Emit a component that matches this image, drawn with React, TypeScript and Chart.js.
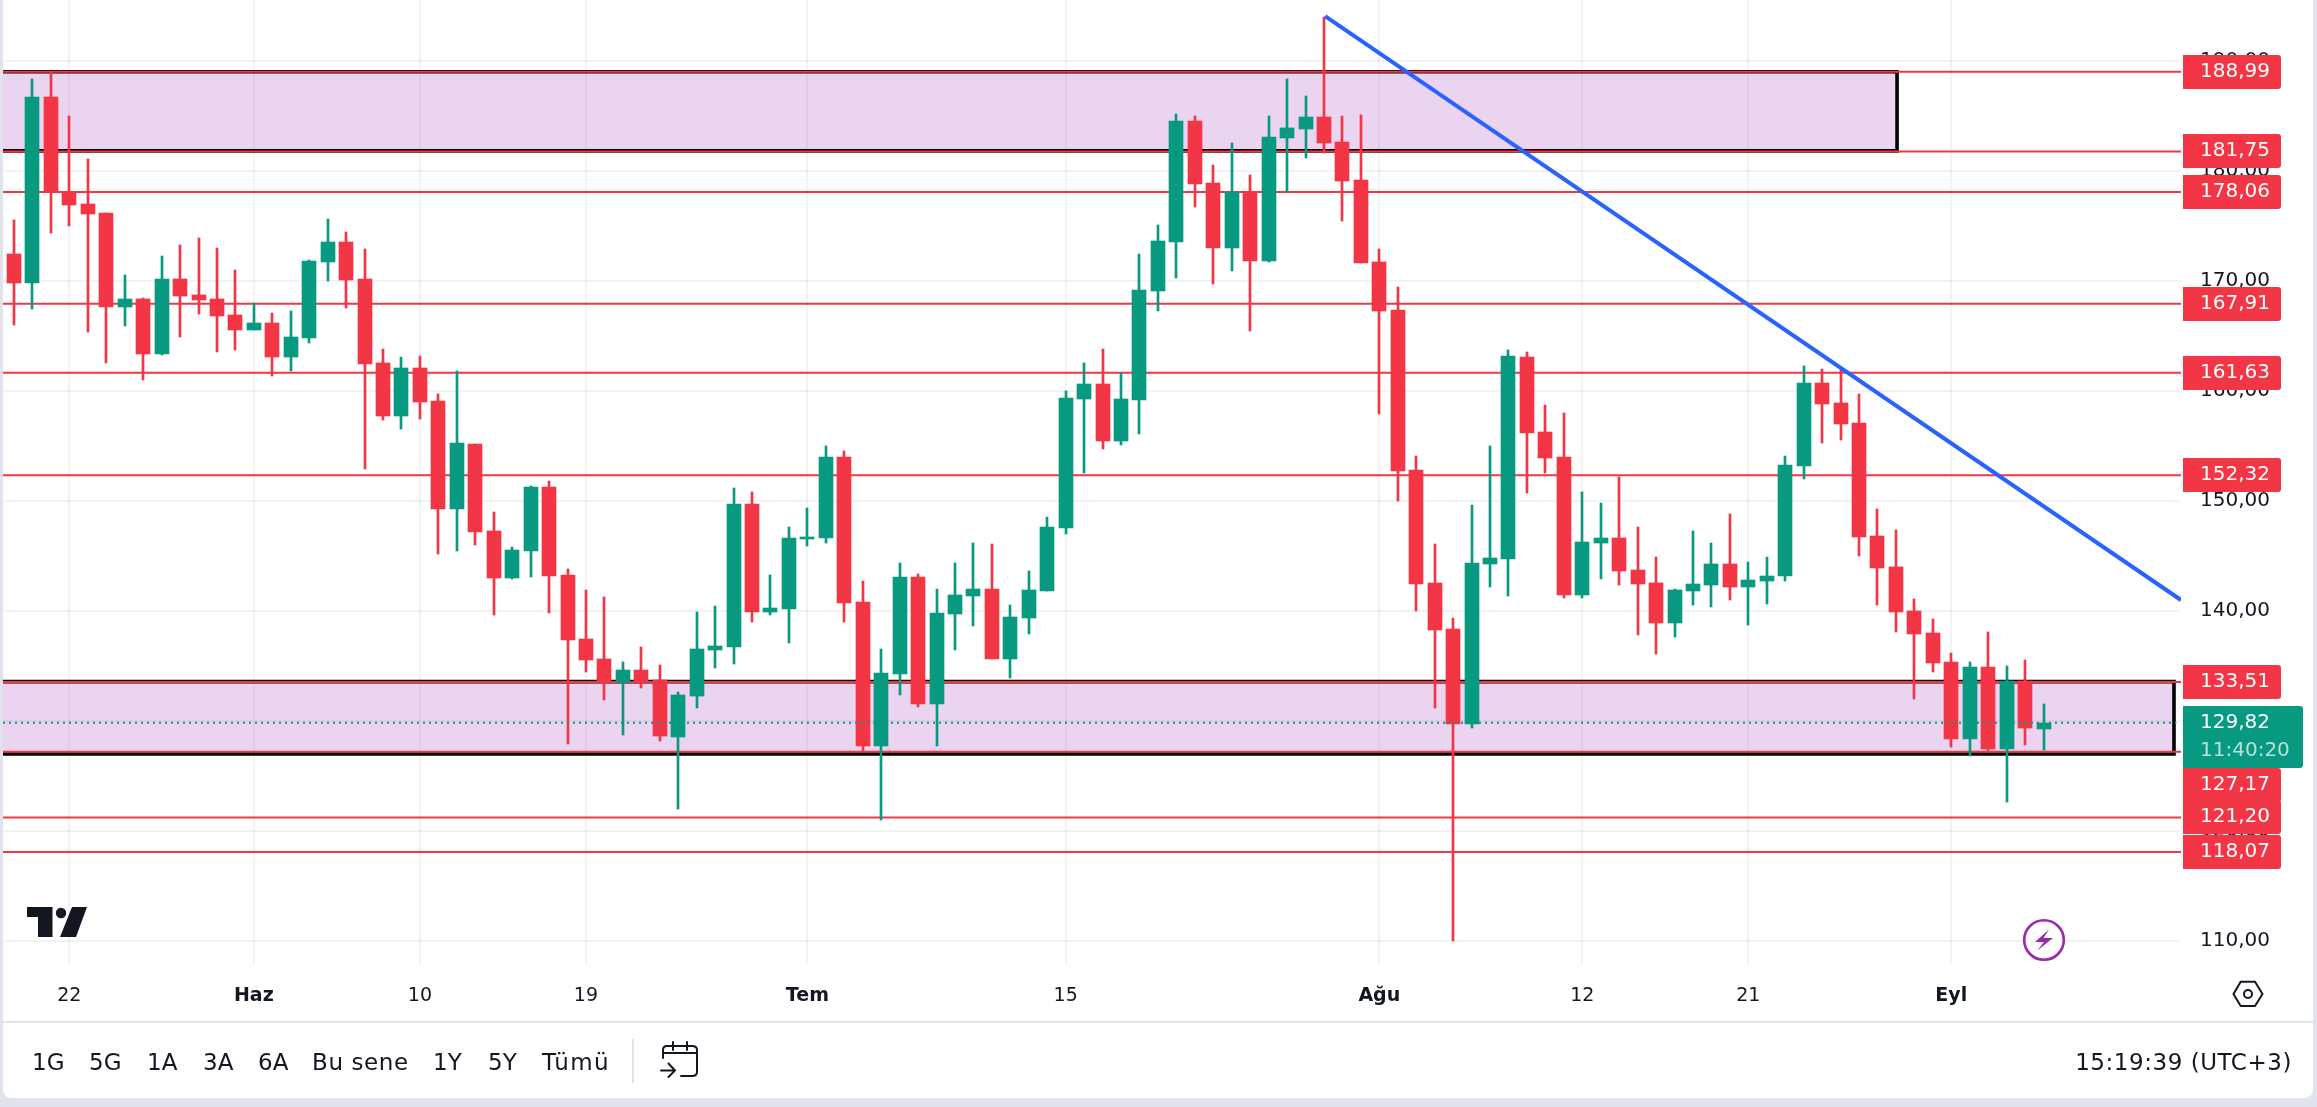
import React, { useEffect, useRef } from "react";
import { Chart, registerables } from "chart.js";

Chart.register(...registerables);

const opens = [
  172.44, 169.81, 186.69, 178.08, 176.98, 176.17, 167.6, 168.34, 163.34, 170.16,
  168.7, 168.34, 166.88, 165.52, 166.17, 163.05, 164.81, 171.69, 173.51, 170.16,
  162.53, 157.7, 162.08, 159.06, 149.25, 155.16, 147.25, 143.0, 145.46, 151.23,
  143.25, 137.44, 135.62, 133.51, 134.61, 133.7, 128.51, 132.24, 136.43, 136.69,
  149.71, 139.87, 140.17, 146.56, 146.63, 153.96, 140.78, 127.7, 134.26, 143.06,
  131.53, 139.71, 141.33, 141.98, 135.62, 139.35, 141.79, 147.54, 159.25, 160.61,
  155.46, 159.16, 169.07, 173.52, 184.52, 178.88, 172.97, 178.07, 171.79, 182.97,
  183.79, 184.88, 182.61, 179.16, 171.7, 167.34, 152.79, 142.53, 138.34, 129.74,
  144.25, 144.7, 163.05, 156.23, 153.96, 141.43, 146.17, 146.62, 143.7, 142.53,
  138.89, 141.78, 142.33, 144.25, 142.14, 142.69, 143.15, 153.15, 160.71, 158.89,
  157.07, 146.78, 143.96, 139.98, 137.98, 135.34, 128.34, 134.88, 127.43, 133.61,
  129.25,
];
const closes = [
  169.81, 186.69, 178.08, 176.88, 176.07, 167.6, 168.34, 163.34, 170.16, 168.6,
  168.25, 166.79, 165.52, 166.17, 163.05, 164.87, 171.79, 173.51, 170.07, 162.44,
  157.7, 162.08, 158.96, 149.25, 155.26, 147.14, 143.0, 145.52, 151.25, 143.18,
  137.34, 135.52, 133.57, 134.61, 133.57, 128.61, 132.34, 136.53, 136.79, 149.71,
  139.87, 140.26, 146.63, 146.69, 153.96, 140.72, 127.7, 134.35, 143.06, 131.53,
  139.81, 141.43, 141.98, 135.62, 139.42, 141.89, 147.6, 159.35, 160.61, 155.46,
  159.25, 169.16, 173.61, 184.52, 178.79, 172.97, 178.07, 171.79, 183.07, 183.88,
  184.88, 182.52, 179.07, 171.61, 167.25, 152.73, 142.43, 138.24, 129.74, 144.35,
  144.8, 163.15, 156.17, 153.89, 141.43, 146.23, 146.62, 143.6, 142.43, 138.89,
  141.88, 142.43, 144.25, 142.14, 142.79, 143.15, 153.24, 160.71, 158.8, 156.98,
  146.69, 143.89, 139.87, 137.88, 135.25, 128.34, 134.88, 127.43, 133.61, 129.34,
  129.82,
];
const highs = [
  175.52, 188.34, 188.93, 184.97, 181.07, 176.17, 170.52, 168.44, 172.24, 173.25,
  173.9, 172.99, 170.97, 167.99, 167.08, 167.24, 171.88, 175.62, 174.42, 172.89,
  163.8, 163.05, 163.15, 159.71, 161.79, 155.16, 148.96, 145.79, 151.34, 151.79,
  143.8, 141.89, 141.24, 135.33, 136.69, 135.07, 132.6, 139.87, 140.43, 151.17,
  150.78, 143.25, 147.6, 149.35, 154.97, 154.52, 142.7, 136.53, 144.35, 143.35,
  141.98, 144.35, 146.17, 146.07, 140.52, 143.61, 148.51, 159.97, 162.52, 163.79,
  161.58, 172.43, 175.07, 185.16, 184.97, 180.52, 182.52, 179.61, 184.97, 188.34,
  186.79, 194.0, 184.97, 185.07, 172.88, 169.43, 154.06, 146.07, 139.35, 149.61,
  154.96, 163.7, 163.5, 158.7, 157.98, 150.78, 149.8, 152.14, 147.59, 144.87,
  141.98, 147.24, 146.17, 148.8, 144.41, 144.87, 154.06, 162.24, 161.98, 161.98,
  159.7, 149.25, 147.33, 141.07, 139.25, 136.16, 135.34, 138.07, 134.98, 135.52,
  131.52,
];
const lows = [
  165.97, 167.44, 174.35, 174.97, 165.33, 162.53, 165.88, 160.97, 163.25, 164.87,
  166.98, 163.51, 163.7, 165.52, 161.33, 161.79, 164.35, 169.97, 167.53, 152.89,
  157.34, 156.53, 157.44, 145.16, 145.42, 145.97, 139.61, 142.88, 143.09, 139.79,
  127.89, 134.42, 131.89, 128.7, 132.99, 128.15, 121.98, 131.17, 134.81, 135.17,
  138.96, 139.61, 137.08, 145.88, 146.17, 138.96, 127.24, 121.01, 132.34, 131.24,
  127.7, 136.43, 138.61, 135.62, 133.9, 137.89, 141.79, 146.98, 152.52, 154.7,
  155.07, 156.07, 167.25, 170.25, 176.7, 169.7, 170.88, 165.43, 171.7, 178.07,
  181.16, 181.58, 175.43, 171.61, 157.88, 149.97, 139.96, 131.17, 110.0, 129.35,
  142.14, 141.33, 150.71, 152.53, 141.17, 141.17, 142.89, 142.33, 137.79, 136.07,
  137.59, 140.52, 140.32, 140.97, 138.7, 140.61, 142.69, 151.98, 155.26, 155.52,
  144.96, 140.52, 138.05, 131.98, 134.43, 127.61, 126.79, 127.16, 122.61, 127.79,
  127.34,
];

const dateTickIndexes = [3, 13, 22, 31, 43, 57, 74, 85, 94, 105];
const dateTickLabels = ["22", "Haz", "10", "19", "Tem", "15", "Ağu", "12", "21", "Eyl"];
const boldDateLabels = ["Haz", "Tem", "Ağu", "Eyl"];
const priceTicks = [110, 120, 130, 140, 150, 160, 170, 180, 190];

const supportResistance = [188.99, 181.75, 178.06, 167.91, 161.63, 152.32, 133.51, 127.17, 121.2, 118.07];
const labelShifts = [0, 0, 0, 0, 0, 0, 0, 33, 0, 0];
const zoneTops = [189.0, 133.55];
const zoneBottoms = [181.8, 126.97];
const zoneEnds = [102.06, 117.07];
const trendXs = [71.06, 117.45];
const trendYs = [194.06, 140.97];
const lastPrice = 129.82;
const countdown = "11:40:20";
const rangeButtons: [string, number, number][] = [
  ["1G", 32, 0], ["5G", 89, 0], ["1A", 147, 0], ["3A", 203, 0], ["6A", 258, 0],
  ["Bu sene", 312, 0.6], ["1Y", 433, 0], ["5Y", 488, 0], ["Tümü", 542, 1.4],
];
const clockText = "15:19:39 (UTC+3)";

const X_MIN = -0.596;
const X_MAX = 117.45;
const Y_MIN = 107.88;
const Y_MAX = 195.52;
const RED = "#f23645";
const GREEN = "#089981";
const INK = "#131722";
const PURPLE = "#9c27b0";
const GRID = "rgba(42,46,57,0.06)";
const FONT = "'DejaVu Sans'";

const fmt = (v: number) => v.toFixed(2).replace(".", ",");
const candleColors = opens.map((o, i) => (closes[i] >= o ? GREEN : RED));

const levelDatasets = supportResistance.map((v) => ({
  type: "line",
  data: [{ x: X_MIN, y: v }, { x: X_MAX, y: v }],
  borderColor: RED,
  borderWidth: 2,
  pointRadius: 0,
  order: 6,
}));

const crispPlugin = {
  id: "crisp",
  afterDatasetsUpdate(chart: any) {
    chart.getSortedVisibleDatasetMetas().forEach((meta: any) => {
      if (meta.type !== "bar") return;
      meta.data.forEach((el: any) => {
        el.x = Math.round(el.x);
        el.y = Math.round(el.y);
        el.base = Math.round(el.base);
      });
    });
  },
};

const zonesPlugin = {
  id: "zones",
  beforeDatasetsDraw(chart: any) {
    const { ctx, scales, chartArea } = chart;
    ctx.save();
    zoneTops.forEach((top, i) => {
      const y0 = scales.y.getPixelForValue(top);
      const y1 = scales.y.getPixelForValue(zoneBottoms[i]);
      const x1 = scales.x.getPixelForValue(zoneEnds[i]);
      const x0 = chartArea.left;
      ctx.fillStyle = "rgba(156,39,176,0.2)";
      ctx.fillRect(x0, y0, x1 - x0, y1 - y0);
      ctx.strokeStyle = "#000000";
      ctx.lineWidth = 3.6;
      ctx.beginPath();
      ctx.moveTo(x0, y0);
      ctx.lineTo(x1, y0);
      ctx.lineTo(x1, y1);
      ctx.lineTo(x0, y1);
      ctx.stroke();
    });
    ctx.restore();
  },
};

const overlayPlugin = {
  id: "overlay",
  afterDraw(chart: any) {
    const { ctx, scales } = chart;
    const right = chart.chartArea.right;
    const boxX = right + 2;
    ctx.save();
    ctx.textBaseline = "middle";
    ctx.textAlign = "left";
    ctx.font = `20px ${FONT}`;

    supportResistance.forEach((v, i) => {
      const cy = Math.round(scales.y.getPixelForValue(v) + labelShifts[i]);
      ctx.fillStyle = RED;
      ctx.beginPath();
      ctx.roundRect(boxX, cy - 17, 98, 34, [0, 3, 3, 0]);
      ctx.fill();
      ctx.fillStyle = "#ffffff";
      ctx.fillText(fmt(v), boxX + 17, cy);
    });

    const ly = Math.round(scales.y.getPixelForValue(lastPrice));
    ctx.fillStyle = GREEN;
    ctx.beginPath();
    ctx.roundRect(boxX, ly - 17, 120, 62, [0, 3, 3, 0]);
    ctx.fill();
    ctx.fillStyle = "#ffffff";
    ctx.fillText(fmt(lastPrice), boxX + 17, ly);
    ctx.fillStyle = "rgba(255,255,255,0.7)";
    ctx.fillText(countdown, boxX + 17, ly + 28);

    // TradingView mark
    ctx.fillStyle = INK;
    ctx.beginPath();
    ctx.moveTo(27, 907); ctx.lineTo(52.5, 907); ctx.lineTo(52.5, 937); ctx.lineTo(38, 937);
    ctx.lineTo(38, 917); ctx.lineTo(27, 917); ctx.closePath();
    ctx.fill();
    ctx.beginPath();
    ctx.arc(61, 913, 5.2, 0, Math.PI * 2);
    ctx.fill();
    ctx.beginPath();
    ctx.moveTo(72, 907); ctx.lineTo(87, 907); ctx.lineTo(76, 937); ctx.lineTo(60, 937);
    ctx.closePath();
    ctx.fill();

    // lightning badge
    ctx.beginPath();
    ctx.arc(2044, 940, 19.8, 0, Math.PI * 2);
    ctx.fillStyle = "#ffffff";
    ctx.fill();
    ctx.lineWidth = 2.6;
    ctx.strokeStyle = PURPLE;
    ctx.stroke();
    ctx.fillStyle = PURPLE;
    ctx.beginPath();
    ctx.moveTo(2049, 929.5); ctx.lineTo(2035, 942); ctx.lineTo(2044, 942);
    ctx.lineTo(2037.3, 950.5); ctx.lineTo(2053, 938); ctx.lineTo(2043.5, 938);
    ctx.closePath();
    ctx.fill();

    // settings hexagon
    ctx.strokeStyle = INK;
    ctx.lineWidth = 2;
    ctx.beginPath();
    ctx.moveTo(2233.5, 994); ctx.lineTo(2240.7, 981.7); ctx.lineTo(2255, 981.7);
    ctx.lineTo(2262.5, 994); ctx.lineTo(2255, 1006); ctx.lineTo(2240.7, 1006);
    ctx.closePath();
    ctx.stroke();
    ctx.beginPath();
    ctx.arc(2248, 994, 4, 0, Math.PI * 2);
    ctx.stroke();

    // date-range calendar
    ctx.lineCap = "round";
    ctx.beginPath();
    ctx.moveTo(663, 1058); ctx.lineTo(663, 1050);
    ctx.quadraticCurveTo(663, 1046, 667, 1046);
    ctx.lineTo(692, 1046);
    ctx.quadraticCurveTo(697, 1046, 697, 1050);
    ctx.lineTo(697, 1072);
    ctx.quadraticCurveTo(697, 1076, 692, 1076);
    ctx.lineTo(681, 1076);
    ctx.moveTo(663, 1053); ctx.lineTo(697, 1053);
    ctx.moveTo(673, 1042); ctx.lineTo(673, 1050);
    ctx.moveTo(687, 1042); ctx.lineTo(687, 1050);
    ctx.moveTo(661, 1070.5); ctx.lineTo(675, 1070.5);
    ctx.moveTo(668.5, 1063.5); ctx.lineTo(675, 1070.5); ctx.lineTo(668.5, 1077);
    ctx.stroke();
    ctx.restore();
  },
};

export default function App() {
  const ref = useRef<HTMLCanvasElement>(null);

  useEffect(() => {
    const chart = new Chart(ref.current as HTMLCanvasElement, {
      type: "bar",
      data: {
        datasets: [
          {
            type: "line",
            data: trendXs.map((x, i) => ({ x, y: trendYs[i] })),
            borderColor: "#2962ff",
            borderWidth: 4,
            pointRadius: 0,
            order: 0,
          },
          {
            type: "line",
            data: [{ x: X_MIN, y: lastPrice }, { x: 117.2, y: lastPrice }],
            borderColor: GREEN,
            borderWidth: 2,
            borderDash: [2, 4],
            pointRadius: 0,
            order: 1,
          },
          {
            data: opens.map((o, i) => ({ x: i, y: [o, closes[i]] })),
            backgroundColor: candleColors,
            borderWidth: 0,
            barThickness: 14,
            grouped: false,
            order: 2,
          },
          {
            data: lows.map((l, i) => ({ x: i, y: [l, highs[i]] })),
            backgroundColor: candleColors,
            borderWidth: 0,
            barThickness: 2,
            grouped: false,
            order: 3,
          },
          ...levelDatasets,
        ] as any,
      },
      options: {
        animation: false,
        responsive: false,
        events: [],
        layout: { padding: { left: 3, right: 4, top: 0, bottom: 85 } },
        plugins: { legend: { display: false }, tooltip: { enabled: false } },
        scales: {
          x: {
            type: "linear",
            min: X_MIN,
            max: X_MAX,
            offset: false,
            grid: { color: GRID, lineWidth: 2, drawTicks: false, offset: false },
            border: { display: false },
            afterBuildTicks: (s: any) => {
              s.ticks = dateTickIndexes.map((value) => ({ value }));
            },
            afterFit: (s: any) => {
              s.height = 58;
              s.paddingLeft = s.paddingRight = s.paddingTop = s.paddingBottom = 0;
            },
            ticks: {
              autoSkip: false,
              maxRotation: 0,
              padding: 21,
              color: INK,
              callback: (v: any) => dateTickLabels[dateTickIndexes.indexOf(v)],
              font: (c: any) => {
                const label = dateTickLabels[dateTickIndexes.indexOf(c.tick?.value)];
                return {
                  family: FONT,
                  size: 19,
                  weight: boldDateLabels.includes(label) ? "bold" : "normal",
                };
              },
            },
          },
          y: {
            type: "linear",
            position: "right",
            min: Y_MIN,
            max: Y_MAX,
            grid: { color: GRID, lineWidth: 2, drawTicks: false },
            border: { display: false },
            afterBuildTicks: (s: any) => {
              s.ticks = priceTicks.map((value) => ({ value }));
            },
            afterFit: (s: any) => {
              s.width = 132;
              s.paddingLeft = s.paddingRight = s.paddingTop = s.paddingBottom = 0;
            },
            ticks: {
              padding: 19,
              color: INK,
              font: { family: FONT, size: 20 },
              callback: (v: any) => fmt(Number(v)),
            },
          },
        },
      } as any,
      plugins: [crispPlugin, zonesPlugin, overlayPlugin],
    });
    return () => chart.destroy();
  }, []);

  const toolbarFont: React.CSSProperties = {
    position: "absolute",
    font: `23px ${FONT}`,
    color: INK,
    top: 1048,
    lineHeight: "28px",
    whiteSpace: "nowrap",
  };

  return (
    <div style={{ position: "fixed", left: 0, top: 0, width: 2317, height: 1107, background: "#e0e3eb", overflow: "hidden" }}>
      <div style={{ position: "absolute", left: 3, top: 0, width: 2310, height: 1098, background: "#ffffff", borderRadius: "0 0 8px 8px" }} />
      <div style={{ position: "absolute", left: 3, top: 1021, width: 2310, height: 2, background: "#e0e3eb" }} />
      <div style={{ position: "absolute", left: 632, top: 1039, width: 2, height: 44, background: "#e0e3eb" }} />
      <canvas ref={ref} width={2317} height={1107} style={{ position: "absolute", left: 0, top: 0, display: "block" }} />
      {rangeButtons.map(([t, x, ls]) => (
        <span key={t} style={{ ...toolbarFont, left: x, letterSpacing: ls }}>{t}</span>
      ))}
      <span style={{ ...toolbarFont, right: 25, letterSpacing: 0.55 }}>{clockText}</span>
    </div>
  );
}
